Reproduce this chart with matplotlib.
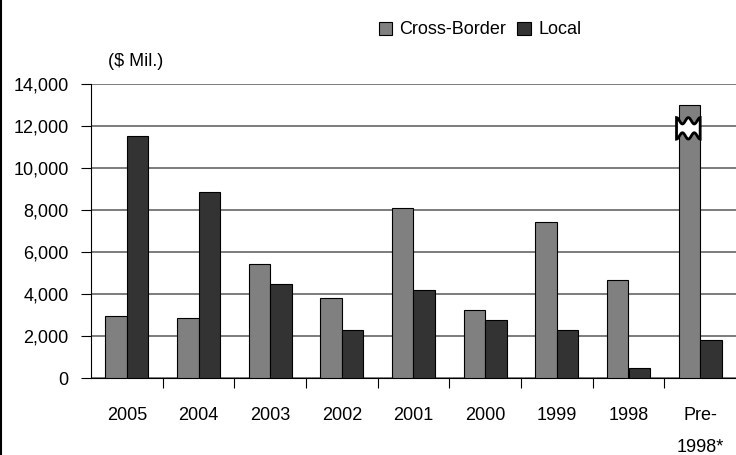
import numpy as np
import matplotlib
matplotlib.use("Agg")
import matplotlib.pyplot as plt
from matplotlib.patches import Polygon
from matplotlib.lines import Line2D

plt.rcParams['font.family'] = ['Liberation Sans Narrow', 'Liberation Sans', 'DejaVu Sans']

# data
categories = ['2005', '2004', '2003', '2002', '2001', '2000', '1999', '1998', 'Pre-\n1998*']
cross_border = [2950, 2870, 5450, 3810, 8120, 3250, 7440, 4680, 12980]
local = [11540, 8870, 4500, 2300, 4200, 2780, 2300, 490, 1820]

fig = plt.figure(figsize=(7.36, 4.55), dpi=100)
ax = fig.add_axes([91/736, 1-378.3/455, 1-91/736, (378.3-84)/455])

x = np.arange(len(categories))
w = 0.3
ax.bar(x - w/2, cross_border, w, color='#808080', edgecolor='black', linewidth=0.8, zorder=3, label='Cross-Border')
ax.bar(x + w/2, local, w, color='#333333', edgecolor='black', linewidth=0.8, zorder=3, label='Local')

ax.set_xlim(-0.5, len(categories) - 0.5)
ax.set_ylim(0, 14000)
yt = np.arange(0, 14001, 2000)
ax.set_yticks(yt)
ax.set_yticklabels([f'{v:,}' for v in yt], fontsize=13)
ax.yaxis.grid(True, color='#666666', linewidth=1.2, zorder=0)

ax.set_xticks(x)
ax.set_xticklabels(categories, fontsize=13, linespacing=2.15, va='top')
ax.set_xticks(np.arange(0.5, len(categories) - 0.5), minor=True)
ax.tick_params(axis='x', which='major', length=0, pad=21)
ax.tick_params(axis='x', which='minor', length=7, direction='out', width=0.8)
ax.tick_params(axis='y', length=7, width=0.8, pad=9)

for s in ['top', 'right']:
    ax.spines[s].set_visible(False)
ax.spines['left'].set_linewidth(0.8)
ax.spines['bottom'].set_linewidth(0.8)

# axis break marker on the Pre-1998 bar
bx0 = 8 - w - 0.03
bx1 = 8.0
tt = np.linspace(0, 1, 60)
top = 12400 - 300 * (1 - np.cos(4 * np.pi * tt)) / 2
bot = 11380 + 300 * (1 - np.cos(4 * np.pi * tt)) / 2
xs = bx0 + (bx1 - bx0) * tt
pts = list(zip(xs, top)) + list(zip(xs[::-1], bot[::-1]))
ax.add_patch(Polygon(pts, closed=True, facecolor='white', edgecolor='black', linewidth=2, zorder=5))

ax.text(108/736, 1-62/455, '($ Mil.)', transform=fig.transFigure, fontsize=13, va='center', ha='left')

handles, labels = ax.get_legend_handles_labels()
fig.legend(handles, labels, loc='center', bbox_to_anchor=(480/736, 1-30/455), ncol=2, frameon=False,
           fontsize=13, handlelength=0.75, handleheight=0.75, handletextpad=0.4, columnspacing=0.6)

fig.add_artist(Line2D([0.5/736, 0.5/736], [0, 1], color='black', linewidth=1.5, transform=fig.transFigure))

fig.savefig('out.png', dpi=100)
